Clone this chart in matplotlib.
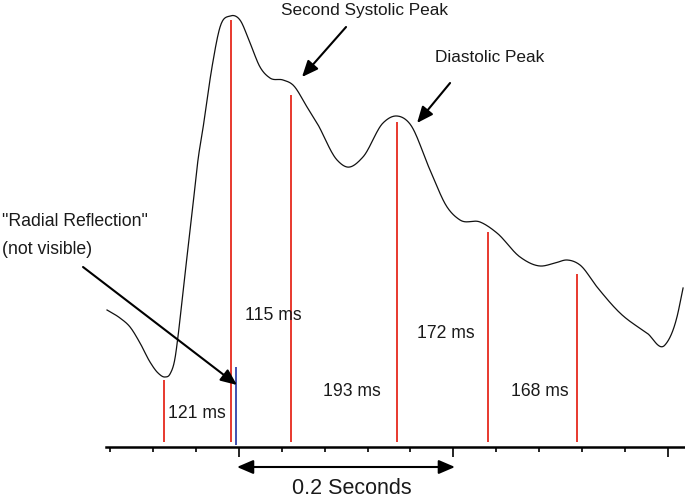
import numpy as np
import matplotlib
matplotlib.use("Agg")
import matplotlib.pyplot as plt

plt.rcParams['font.family'] = ['Liberation Sans', 'DejaVu Sans']

# pulse waveform, time in ms (0 = first major tick), amplitude in arbitrary units
wave_t = [-123.2, -111.1, -101.7, -92.4, -83.1, -75.6, -69.1, -64.4, -59.7, -56.9,
          -53.2, -50.4, -47.6, -42.9, -38.3, -33.6, -25.2, -17.7, -8.4, 0.9,
          10.3, 19.6, 28.9, 41.1, 50.4, 63.5, 72.8, 91.5, 100.8, 115.7,
          134.4, 147.5, 159.6, 178.3, 194.2, 206.3, 225.0, 240.8, 262.3, 281.0,
          295.0, 306.2, 318.3, 334.2, 355.6, 380.8, 397.6, 408.8, 414.5]
wave_a = [137, 129, 120, 104, 85, 74, 70, 73, 89, 111,
          146, 173, 199, 243, 287, 319, 380, 420, 431, 427,
          404, 380, 369, 367, 362, 340, 324, 287, 280, 290,
          324, 331, 323, 277, 240, 227, 225, 214, 190, 181,
          184, 187, 182, 160, 134, 114, 102, 130, 159]

# red marker lines (time, top)
marker_t = [-70.0, -7.5, 48.5, 147.5, 232.4, 315.5]
marker_top = [67, 427, 352, 325, 215, 173]
marker_bottom = 5
# blue "radial reflection" marker
blue_t = -2.8
blue_top = 80

# interval labels
interval_text = ["121 ms", "115 ms", "193 ms", "172 ms", "168 ms"]
interval_x = [-39.2, 31.7, 105.0, 193.2, 281.0]
interval_y = [34, 132, 56, 114, 55]


def smooth(x, y, n=25):
    # cubic hermite through the points (non-uniform tangents), only for drawing
    x = np.asarray(x, float)
    y = np.asarray(y, float)
    h = np.diff(x)
    d = np.diff(y) / h
    m = np.empty_like(y)
    m[0] = d[0]
    m[-1] = d[-1]
    m[1:-1] = (h[:-1] * d[1:] + h[1:] * d[:-1]) / (h[:-1] + h[1:])
    xs, ys = [], []
    for i in range(len(x) - 1):
        s = np.linspace(0, 1, n, endpoint=False)
        h00 = 2 * s ** 3 - 3 * s ** 2 + 1
        h10 = s ** 3 - 2 * s ** 2 + s
        h01 = -2 * s ** 3 + 3 * s ** 2
        h11 = s ** 3 - s ** 2
        xs.append(x[i] + s * h[i])
        ys.append(h00 * y[i] + h10 * h[i] * m[i] + h01 * y[i + 1] + h11 * h[i] * m[i + 1])
    xs.append([x[-1]])
    ys.append([y[-1]])
    return np.concatenate(xs), np.concatenate(ys)


fig = plt.figure(figsize=(6.85, 5.04), dpi=100)
ax = fig.add_axes([0, 0, 1, 1])
ax.set_xlim(-223.1, 416.3)
ax.set_ylim(-57, 447)

red = '#e8392e'
ax.vlines(marker_t, marker_bottom, marker_top, color=red, lw=1.4)
ax.vlines(blue_t, marker_bottom - 3, blue_top, color='#4050b0', lw=1.4)

sx, sy = smooth(wave_t, wave_a)
ax.plot(sx, sy, color='#111111', lw=0.9)

# time axis
for s in ['top', 'left', 'right']:
    ax.spines[s].set_visible(False)
ax.spines['bottom'].set_position(('data', 0))
ax.spines['bottom'].set_bounds(-124, 416.3)
ax.spines['bottom'].set_linewidth(1.8)
ax.set_xticks([0, 200, 400])
ax.set_xticks(np.arange(-120, 401, 40), minor=True)
ax.tick_params(axis='x', which='major', direction='out', length=7, width=1.2, labelbottom=False)
ax.tick_params(axis='x', which='minor', direction='out', length=3.5, width=1.2)
ax.set_yticks([])

txt = dict(fontsize=12.7, color='#1a1a1a', ha='center', va='center')
for t, x, y in zip(interval_text, interval_x, interval_y):
    ax.text(x, y, t, **txt)

ax.text(105, -42, "0.2 Seconds", fontsize=15.5, color='#1a1a1a', ha='center', va='center')
ax.annotate('', xy=(-1.9, -20), xytext=(201.6, -20),
            arrowprops=dict(arrowstyle='<|-|>,head_length=0.7,head_width=0.3',
                            mutation_scale=14, lw=1.5, color='black',
                            shrinkA=0, shrinkB=0))

arrow = dict(arrowstyle='-|>,head_length=0.7,head_width=0.3', mutation_scale=14,
             lw=1.5, color='black', shrinkA=0, shrinkB=0)
ax.text(117.6, 437, "Second Systolic Peak", fontsize=12.4, color='#1a1a1a', ha='center', va='center')
ax.annotate('', xy=(58.8, 370), xytext=(99.9, 420), arrowprops=arrow)

ax.text(234.3, 389, "Diastolic Peak", fontsize=12.4, color='#1a1a1a', ha='center', va='center')
ax.annotate('', xy=(166.2, 324), xytext=(197, 364), arrowprops=arrow)

ax.text(-221.2, 226, "\"Radial Reflection\"", fontsize=12.7, color='#1a1a1a', ha='left', va='center')
ax.text(-221.2, 198, "(not visible)", fontsize=12.7, color='#1a1a1a', ha='left', va='center')
ax.annotate('', xy=(-1.9, 62), xytext=(-145.6, 180), arrowprops=arrow)

fig.savefig('out.png', dpi=100)
